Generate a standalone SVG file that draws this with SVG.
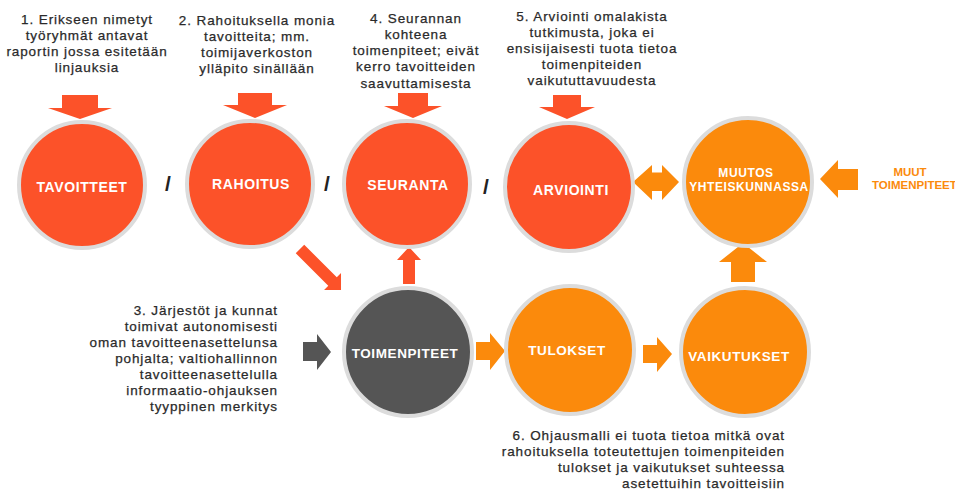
<svg xmlns="http://www.w3.org/2000/svg" width="955" height="491" viewBox="0 0 955 491">
<style>
.red{fill:#FC5229}
.org{fill:#FB8A0C}
.gry{fill:#555555}
.ring{stroke:#DCDCDC;stroke-width:4}
.lbl{font-family:"Liberation Sans",Arial,sans-serif;font-weight:700;fill:#FFFFFF;text-anchor:middle;letter-spacing:0.6px}
.note{font-family:"Liberation Sans",Arial,sans-serif;font-size:13.5px;fill:#2A2A2A;stroke:#2A2A2A;stroke-width:0.25px;letter-spacing:0.9px}
.c{text-anchor:middle}
.r{text-anchor:end}
.slash{font-family:"Liberation Sans",Arial,sans-serif;font-weight:700;font-size:21px;fill:#222;text-anchor:middle}
</style>
<rect width="955" height="491" fill="#FFFFFF"/>

<g id="connectors">
  <polygon class="red" points="62,95 98,95 98,108 112,108 80,119 48,108 62,108"/>
  <polygon class="red" points="238,93 272,93 272,105 287,105 255,118 223,105 238,105"/>
  <polygon class="red" points="398,93 428,93 428,106 442,106 413,118 384,106 398,106"/>
  <polygon class="red" points="553,95 581,95 581,107 595,107 567,119 539,107 553,107"/>
  <polygon class="org" points="633,182 652,165 652,172.5 662,172.5 662,165 679,182 662,200 662,191 652,191 652,200"/>
  <polygon class="org" points="820,179 838,160 838,169 858,169 858,190 838,190 838,198"/>
  <polygon class="org" points="743,243 767,262 755,262 755,282 731,282 731,262 719,262"/>
  <polygon class="red" points="409,247 421,260 415,260 415,284 403,284 403,260 397,260"/>
  <polygon class="red" points="0,-6 46,-6 46,-12 58,0 46,12 46,6 0,6" transform="translate(300,249) rotate(45)"/>
  <polygon class="gry" points="303,342 317,342 317,334 331,352 317,370 317,361 303,361"/>
  <polygon class="org" points="476,342 490,342 490,333 505,351 490,370 490,360 476,360"/>
  <polygon class="org" points="643,345 657,345 657,337 672,354 657,372 657,363 643,363"/>
</g>

<g id="tavoitteet"><circle class="red ring" cx="82" cy="185" r="63"/><text class="lbl" x="82" y="192" font-size="14">TAVOITTEET</text></g>
<g id="rahoitus"><circle class="red ring" cx="250" cy="184" r="63"/><text class="lbl" x="251" y="189" font-size="14">RAHOITUS</text></g>
<g id="seuranta"><circle class="red ring" cx="407" cy="184" r="63"/><text class="lbl" x="408" y="190" font-size="14">SEURANTA</text></g>
<g id="arviointi"><circle class="red ring" cx="569" cy="187" r="64"/><text class="lbl" x="571" y="195" font-size="14">ARVIOINTI</text></g>
<g id="muutos"><circle class="org ring" cx="748" cy="182" r="64"/><text class="lbl" x="746" y="177" font-size="12">MUUTOS</text><text class="lbl" x="749" y="191" font-size="12">YHTEISKUNNASSA</text></g>
<g id="toimenpiteet"><circle class="gry ring" cx="408" cy="352" r="64"/><text class="lbl" x="405" y="358" font-size="13.5">TOIMENPITEET</text></g>
<g id="tulokset"><circle class="org ring" cx="570" cy="350" r="64"/><text class="lbl" x="567" y="355" font-size="13.5">TULOKSET</text></g>
<g id="vaikutukset"><circle class="org ring" cx="745" cy="352" r="64"/><text class="lbl" x="739" y="361" font-size="13.5">VAIKUTUKSET</text></g>

<g id="muut">
  <text font-family="'Liberation Sans',Arial,sans-serif" font-weight="700" font-size="11.5" fill="#FB8A0C" text-anchor="middle" x="910" y="176">MUUT</text>
  <text font-family="'Liberation Sans',Arial,sans-serif" font-weight="700" font-size="11.5" fill="#FB8A0C" x="872" y="189">TOIMENPITEET</text>
</g>

<g id="slashes">
  <text class="slash" x="168" y="191">/</text>
  <text class="slash" x="327" y="191">/</text>
  <text class="slash" x="486" y="194">/</text>
</g>

<g id="note1" class="note c">
  <text x="87" y="24">1. Erikseen nimetyt</text>
  <text x="87" y="40">työryhmät antavat</text>
  <text x="87" y="56">raportin jossa esitetään</text>
  <text x="87" y="72">linjauksia</text>
</g>
<g id="note2" class="note c">
  <text x="257" y="25">2. Rahoituksella  monia</text>
  <text x="257" y="41">tavoitteita; mm.</text>
  <text x="257" y="57">toimijaverkoston</text>
  <text x="257" y="73">ylläpito sinällään</text>
</g>
<g id="note4" class="note c">
  <text x="416" y="23">4. Seurannan</text>
  <text x="416" y="39">kohteena</text>
  <text x="416" y="55">toimenpiteet; eivät</text>
  <text x="416" y="71">kerro tavoitteiden</text>
  <text x="416" y="88">saavuttamisesta</text>
</g>
<g id="note5" class="note c">
  <text x="592" y="21">5. Arviointi omalakista</text>
  <text x="592" y="37">tutkimusta, joka ei</text>
  <text x="592" y="53">ensisijaisesti tuota tietoa</text>
  <text x="592" y="69">toimenpiteiden</text>
  <text x="592" y="85">vaikututtavuudesta</text>
</g>
<g id="note3" class="note r">
  <text x="278" y="315">3. Järjestöt ja kunnat</text>
  <text x="278" y="331">toimivat autonomisesti</text>
  <text x="278" y="347">oman tavoitteenasettelunsa</text>
  <text x="278" y="363">pohjalta; valtiohallinnon</text>
  <text x="278" y="379">tavoitteenasettelulla</text>
  <text x="278" y="395">informaatio-ohjauksen</text>
  <text x="278" y="411">tyyppinen merkitys</text>
</g>
<g id="note6" class="note r">
  <text x="785" y="440">6. Ohjausmalli ei tuota tietoa mitkä ovat</text>
  <text x="785" y="456">rahoituksella toteutettujen toimenpiteiden</text>
  <text x="785" y="472">tulokset ja vaikutukset suhteessa</text>
  <text x="785" y="488">asetettuihin tavoitteisiin</text>
</g>
</svg>
